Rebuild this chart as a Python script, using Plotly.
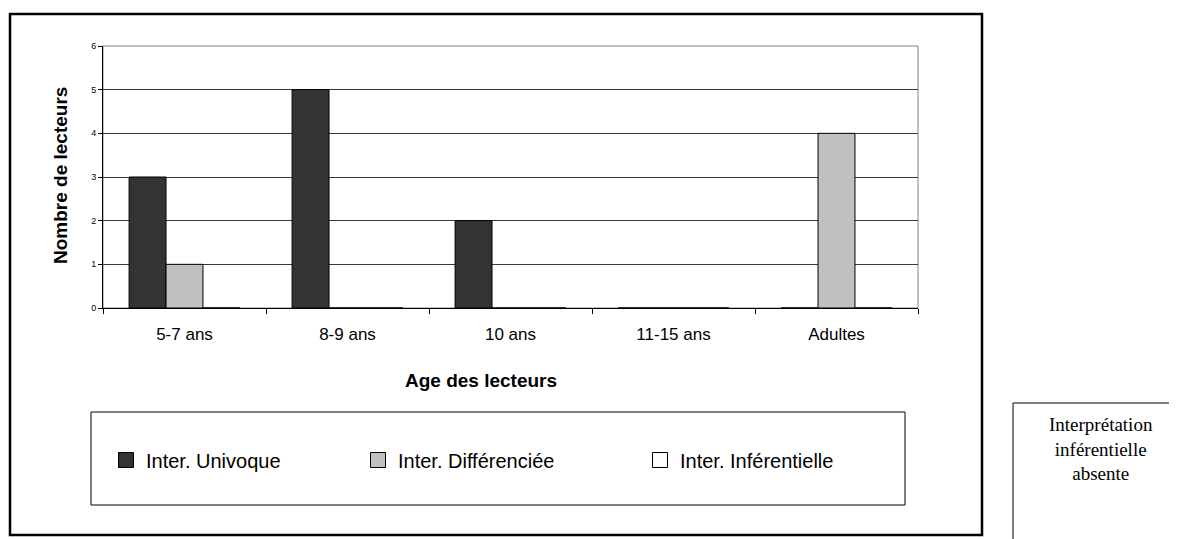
import plotly.graph_objects as go

# ---- data ----
categories = ["5-7 ans", "8-9 ans", "10 ans", "11-15 ans", "Adultes"]
univoque = [3, 5, 2, 0, 0]
differenciee = [1, 0, 0, 0, 4]
inferentielle = [0, 0, 0, 0, 0]
series_names = ["Inter. Univoque", "Inter. Différenciée", "Inter. Inférentielle"]
y_ticks = [0, 1, 2, 3, 4, 5, 6]

# ---- geometry (page pixels; the page body adds an 8px offset) ----
OFF = 8
W, H = 1177 - OFF, 539 - OFF
PL, PR, PT, PB = 103, 918, 46, 308   # plot area edges in page pixels


def px(x):
    return (x - PL) / (PR - PL)


def py(y):
    return (PB - y) / (PB - PT)


colors = ["#333333", "#c0c0c0", "#ffffff"]
values = [univoque, differenciee, inferentielle]

fig = go.Figure()
for name, vals, col in zip(series_names, values, colors):
    fig.add_trace(go.Bar(
        x=categories, y=vals, name=name, marker=dict(color=col, line=dict(color="black", width=1)),
        showlegend=False, legendgroup=name,
    ))

legend_ids = ["legend", "legend2", "legend3"]
legend_x = [116, 368, 650]
for name, col, lid in zip(series_names, colors, legend_ids):
    fig.add_trace(go.Scatter(
        x=[None], y=[None], mode="markers", name=name, legend=lid, legendgroup=name,
        marker=dict(symbol="square", size=15, color=col, line=dict(color="black", width=1)),
        showlegend=True,
    ))

legend_common = dict(
    font=dict(family="Liberation Sans, Arial", size=20, color="black"),
    bgcolor="rgba(0,0,0,0)", borderwidth=0, itemwidth=30,
    xanchor="left", yanchor="middle", y=py(460),
)
layout_legends = {}
for lid, lx in zip(legend_ids, legend_x):
    layout_legends[lid] = dict(legend_common, x=px(lx - 10))

shapes = [
    # outer chart border
    dict(type="rect", xref="paper", yref="paper", x0=px(10), x1=px(982), y0=py(535), y1=py(14),
         line=dict(color="black", width=2.5), layer="below"),
    # plot area border (grey)
    dict(type="rect", xref="paper", yref="paper", x0=0, x1=1, y0=0, y1=1,
         line=dict(color="#808080", width=1), layer="below"),
    # legend box
    dict(type="rect", xref="paper", yref="paper", x0=px(91), x1=px(905), y0=py(505), y1=py(412),
         line=dict(color="black", width=1)),
    # side box
    dict(type="rect", xref="paper", yref="paper", x0=px(1013), x1=px(1200), y0=py(560), y1=py(403),
         line=dict(color="black", width=1)),
]

annotations = [
    dict(text="<b>Age des lecteurs</b>", xref="paper", yref="paper", x=px(481), y=py(380),
         xanchor="center", yanchor="middle", showarrow=False,
         font=dict(family="Liberation Sans, Arial", size=19, color="black")),
    dict(text="<b>Nombre de lecteurs</b>", xref="paper", yref="paper", x=px(60), y=py(176),
         xanchor="center", yanchor="middle", showarrow=False, textangle=-90,
         font=dict(family="Liberation Sans, Arial", size=19, color="black")),
    dict(text="Interprétation<br>inférentielle<br>absente", xref="paper", yref="paper",
         x=px(1101), y=py(403 + 9), xanchor="center", yanchor="top", showarrow=False, align="center",
         font=dict(family="Liberation Serif, Times New Roman", size=19, color="black")),
]

fig.update_layout(
    width=W, height=H,
    margin=dict(l=PL - OFF, r=(W + OFF) - PR, t=PT - OFF, b=(H + OFF) - PB, pad=0),
    paper_bgcolor="white", plot_bgcolor="white",
    barmode="group", bargap=0.32, bargroupgap=0,
    shapes=shapes, annotations=annotations,
    **layout_legends,
)

fig.update_xaxes(
    type="category", categoryorder="array", categoryarray=categories,
    showline=True, linecolor="black", linewidth=1,
    ticks="outside", ticklen=5, tickcolor="black", tickson="boundaries",
    showgrid=False, zeroline=False,
    tickfont=dict(family="Liberation Sans, Arial", size=17, color="black"),
    ticklabelstandoff=11,
)
fig.update_yaxes(
    range=[0, 6], tickvals=y_ticks, ticktext=[str(v) for v in y_ticks],
    showline=True, linecolor="black", linewidth=1,
    ticks="outside", ticklen=4, tickcolor="black",
    showgrid=True, gridcolor="#3a3a3a", gridwidth=1, zeroline=False,
    tickfont=dict(family="Liberation Sans, Arial", size=9, color="black"),
)

fig.write_html("out.html")
